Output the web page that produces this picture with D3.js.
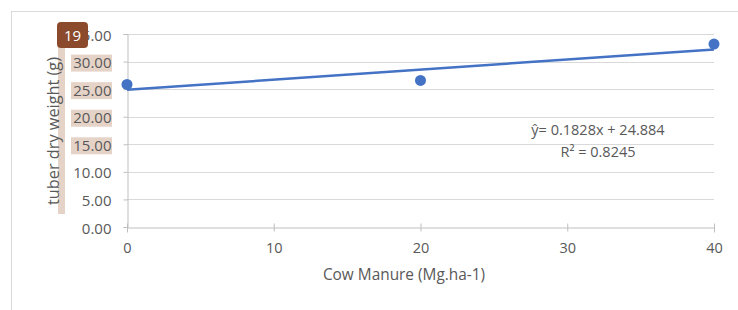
<!DOCTYPE html>
<html>
<head>
<meta charset="utf-8">
<script src="https://cdn.jsdelivr.net/npm/d3@7"></script>
<style>
  body { margin: 0; background: #fff; }
  text { font-family: "Open Sans", "Liberation Sans", sans-serif; fill: #595959; }
</style>
</head>
<body>
<svg id="chart" width="738" height="310"></svg>
<script>
// données
const manure = [0, 20, 40];
const dryWeight = [25.86, 26.59, 33.17];
const slope = 0.1828;
const intercept = 24.884;
const xTicks = [0, 10, 20, 30, 40];
const yTicks = [0, 5, 10, 15, 20, 25, 30, 35];
const highlighted = [15, 20, 25, 30];

const svg = d3.select("#chart");
const margin = { left: 127, right: 24, top: 34, bottom: 83 };
const w = 738, h = 310;

// cadre extérieur
svg.append("rect")
  .attr("x", 11.5).attr("y", 11.5)
  .attr("width", 740).attr("height", 310)
  .attr("fill", "none").attr("stroke", "#d9d9d9");

const x = d3.scaleLinear().domain([0, 40]).range([margin.left, w - margin.right]);
const y = d3.scaleLinear().domain([0, 35]).range([h - margin.bottom, margin.top]);

// fonds beiges (annotations)
svg.append("rect")
  .attr("x", 58).attr("y", 47).attr("width", 7).attr("height", 167)
  .attr("fill", "#e6d3c8");
svg.selectAll(".hl").data(highlighted).join("rect")
  .attr("x", 71).attr("y", d => y(d) - 7)
  .attr("width", 41).attr("height", 17)
  .attr("fill", "#e6d3c8");

// grille
svg.append("g").selectAll("line").data(yTicks.filter(d => d > 0)).join("line")
  .attr("x1", x(0)).attr("x2", x(40))
  .attr("y1", d => Math.round(y(d)) + 0.5).attr("y2", d => Math.round(y(d)) + 0.5)
  .attr("stroke", "#d9d9d9");

// axe X
const xAxis = svg.append("g")
  .attr("transform", `translate(0,${Math.round(y(0)) + 0.5})`)
  .call(d3.axisBottom(x).tickValues(xTicks).tickSize(5).tickPadding(10).tickFormat(d3.format("d")));
xAxis.select(".domain").attr("stroke", "#bfbfbf");
xAxis.selectAll(".tick line").attr("stroke", "#bfbfbf").attr("y1", -4).attr("y2", 4);
xAxis.selectAll(".tick text").attr("font-size", 14.5).attr("fill", "#595959");

// axe Y
const yAxis = svg.append("g")
  .attr("transform", `translate(${Math.round(x(0)) + 0.5},0)`)
  .call(d3.axisLeft(y).tickValues(yTicks).tickSize(4).tickPadding(12).tickFormat(d3.format(".2f")));
yAxis.select(".domain").attr("stroke", "#bfbfbf");
yAxis.selectAll(".tick line").attr("stroke", "#bfbfbf");
yAxis.selectAll(".tick text").attr("font-size", 15).attr("fill", "#595959").attr("dy", "0.4em");

// droite de régression
svg.append("line")
  .attr("x1", x(0)).attr("y1", y(intercept))
  .attr("x2", x(40)).attr("y2", y(intercept + slope * 40))
  .attr("stroke", "#4472c4").attr("stroke-width", 2.5);

// points
svg.selectAll(".pt").data(manure).join("circle")
  .attr("cx", d => x(d)).attr("cy", (d, i) => y(dryWeight[i]))
  .attr("r", 5.5).attr("fill", "#4472c4");

// équation
svg.append("text")
  .attr("x", 598).attr("y", 135).attr("text-anchor", "middle").attr("font-size", 14.5)
  .text("ŷ= 0.1828x + 24.884");
svg.append("text")
  .attr("x", 598).attr("y", 157).attr("text-anchor", "middle").attr("font-size", 14.5)
  .text("R² = 0.8245");

// titres des axes
svg.append("text")
  .attr("x", 404).attr("y", 280).attr("text-anchor", "middle").attr("font-size", 15.4)
  .text("Cow Manure (Mg.ha-1)");
svg.append("text")
  .attr("transform", "translate(59,131) rotate(-90)")
  .attr("text-anchor", "middle").attr("font-size", 16.3)
  .text("tuber dry weight (g)");

// pastille "19"
svg.append("rect")
  .attr("x", 57).attr("y", 22).attr("width", 31).attr("height", 26).attr("rx", 4)
  .attr("fill", "#8b4a2b");
svg.append("text")
  .attr("x", 72.5).attr("y", 41).attr("text-anchor", "middle").attr("font-size", 15)
  .style("fill", "#fff")
  .text("19");
</script>
</body>
</html>
